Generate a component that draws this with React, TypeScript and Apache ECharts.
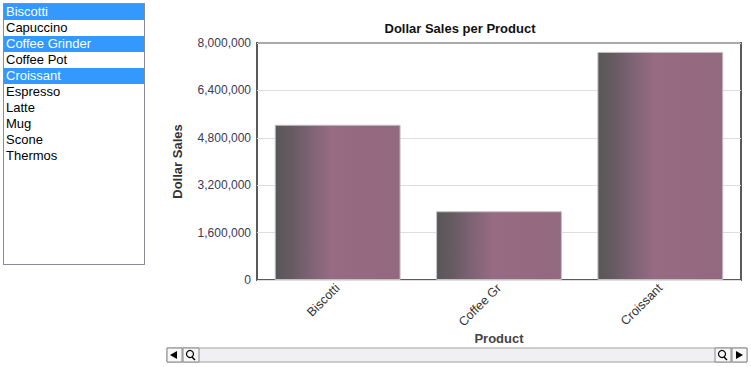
import React, { useEffect, useRef } from "react";
import * as echarts from "echarts";

const listItems = ["Biscotti", "Capuccino", "Coffee Grinder", "Coffee Pot", "Croissant", "Espresso", "Latte", "Mug", "Scone", "Thermos"];
const selectedItems = ["Biscotti", "Coffee Grinder", "Croissant"];
const categories = ["Biscotti", "Coffee Gr", "Croissant"];
const salesValues = [5240000, 2320000, 7700000];
const yTicks = { min: 0, max: 8000000, interval: 1600000 };

const FONT = "'Liberation Sans', Arial, sans-serif";

export default function App() {
  const ref = useRef<HTMLDivElement>(null);
  useEffect(() => {
    if (!ref.current) return;
    const chart = echarts.init(ref.current, undefined, { renderer: "svg" });
    const barGrad = new echarts.graphic.LinearGradient(0, 0, 1, 0, [
      { offset: 0, color: "#575757" },
      { offset: 0.14, color: "#685b63" },
      { offset: 0.3, color: "#816476" },
      { offset: 0.45, color: "#976b83" },
      { offset: 1, color: "#93697f" },
    ]);
    chart.setOption({
      animation: false,
      backgroundColor: "#ffffff",
      textStyle: { fontFamily: FONT },
      title: {
        text: "Dollar Sales per Product",
        left: 455,
        top: 17,
        textAlign: "center",
        textStyle: { fontSize: 13, fontWeight: "bold", color: "#111", fontFamily: FONT },
      },
      grid: {
        left: 257,
        right: 10,
        top: 43,
        bottom: 87,
        show: true,
        borderColor: "#5a5a5a",
        borderWidth: 2,
        backgroundColor: "#ffffff",
      },
      xAxis: {
        type: "category",
        data: categories,
        name: "Product",
        nameLocation: "middle",
        nameGap: 52,
        nameMoveOverlap: false,
        nameTextStyle: { fontSize: 13, fontWeight: "bold", color: "#444", fontFamily: FONT },
        axisLine: { show: false },
        axisTick: { show: false },
        axisLabel: { rotate: 45, fontSize: 12.5, color: "#333", margin: 6, fontFamily: FONT },
      },
      yAxis: {
        type: "value",
        min: yTicks.min,
        max: yTicks.max,
        interval: yTicks.interval,
        name: "Dollar Sales",
        nameLocation: "middle",
        nameGap: 73,
        nameMoveOverlap: false,
        nameTextStyle: { fontSize: 13, fontWeight: "bold", color: "#333", fontFamily: FONT },
        axisLine: { show: false },
        axisTick: { show: false },
        splitLine: { lineStyle: { color: "#dddde2", width: 1 } },
        axisLabel: {
          fontSize: 12,
          color: "#3a3a55",
          margin: 6,
          fontFamily: FONT,
          formatter: (v: number) => v.toLocaleString("en-US"),
        },
      },
      series: [
        {
          type: "bar",
          data: salesValues,
          barWidth: "78%",
          itemStyle: { color: barGrad, borderColor: "#c4c0c4", borderWidth: 1 },
        },
      ],
      graphic: [
        { type: "line", shape: { x1: 258, y1: 43, x2: 740, y2: 43 }, style: { stroke: "#aaaaaa", lineWidth: 2 }, z: 100 },
        // scrollbar
        { type: "rect", shape: { x: 167, y: 348, width: 580, height: 14 }, style: { fill: "#f0f0f3", stroke: "#a0a0a0", lineWidth: 1 }, z: 100 },
        { type: "rect", shape: { x: 167, y: 348, width: 15, height: 14 }, style: { fill: "#f7f7f7", stroke: "#888", lineWidth: 1 }, z: 101 },
        { type: "polygon", shape: { points: [[170, 355], [177, 351], [177, 359]] }, style: { fill: "#000" }, z: 102 },
        { type: "rect", shape: { x: 183, y: 348, width: 16, height: 14 }, style: { fill: "#f7f7f7", stroke: "#888", lineWidth: 1 }, z: 101 },
        { type: "circle", shape: { cx: 190, cy: 354, r: 3.5 }, style: { fill: "none", stroke: "#000", lineWidth: 1.2 }, z: 102 },
        { type: "line", shape: { x1: 192, y1: 357, x2: 195, y2: 360 }, style: { stroke: "#000", lineWidth: 1.5 }, z: 102 },
        { type: "rect", shape: { x: 715, y: 348, width: 16, height: 14 }, style: { fill: "#f7f7f7", stroke: "#888", lineWidth: 1 }, z: 101 },
        { type: "circle", shape: { cx: 722, cy: 354, r: 3.5 }, style: { fill: "none", stroke: "#000", lineWidth: 1.2 }, z: 102 },
        { type: "line", shape: { x1: 724, y1: 357, x2: 727, y2: 360 }, style: { stroke: "#000", lineWidth: 1.5 }, z: 102 },
        { type: "rect", shape: { x: 732, y: 348, width: 15, height: 14 }, style: { fill: "#f7f7f7", stroke: "#888", lineWidth: 1 }, z: 101 },
        { type: "polygon", shape: { points: [[743, 355], [736, 351], [736, 359]] }, style: { fill: "#000" }, z: 102 },
      ],
    });
    return () => chart.dispose();
  }, []);

  return (
    <div style={{ position: "absolute", left: 0, top: 0, width: 751, height: 367, background: "#fff", overflow: "hidden" }}>
      <div ref={ref} style={{ position: "absolute", left: 0, top: 0, width: 751, height: 367 }} />
      <div
        style={{
          position: "absolute",
          left: 3,
          top: 3,
          width: 140,
          height: 260,
          border: "1px solid #8a8a99",
          background: "#fff",
          fontFamily: FONT,
          fontSize: 13,
          paddingTop: 0,
        }}
      >
        {listItems.map((it) => {
          const sel = selectedItems.includes(it);
          return (
            <div
              key={it}
              style={{
                height: 16,
                lineHeight: "16px",
                paddingLeft: 2,
                background: sel ? "#3399ff" : "transparent",
                color: sel ? "#ffffff" : "#000000",
                whiteSpace: "nowrap",
              }}
            >
              {it}
            </div>
          );
        })}
      </div>
    </div>
  );
}
